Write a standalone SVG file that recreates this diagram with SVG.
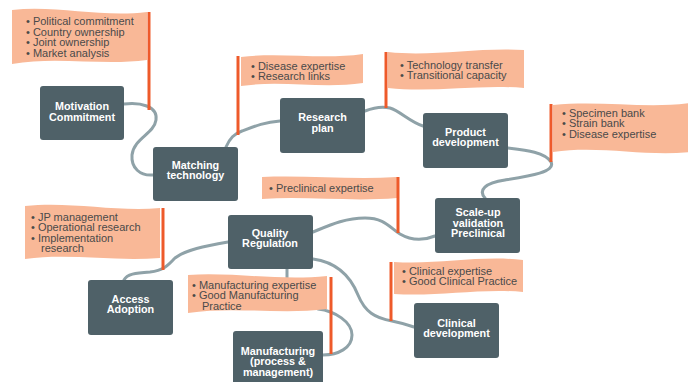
<svg xmlns="http://www.w3.org/2000/svg" width="688" height="382" viewBox="0 0 688 382">
  <style>
    .node rect { fill: #4f6168; }
    .node text { fill: #ffffff; font-family: "Liberation Sans", Arial, sans-serif; font-size: 10.8px; font-weight: bold; text-anchor: middle; }
    .link { fill: none; stroke: #8fa2a8; stroke-width: 3; stroke-linecap: round; }
    .flag path { fill: #f9b897; }
    .flag line { stroke: #ee5a2a; stroke-width: 3; }
    .flag text { fill: #4a4a4a; font-family: "Liberation Sans", Arial, sans-serif; font-size: 11px; }
  </style>
  <rect width="688" height="382" fill="#ffffff"/>

  <!-- connectors -->
  <g id="connectors">
    <path class="link" d="M124,104 C140,102 158,106 156,120 C154,134 134,138 132,155 C131,168 140,176 153,175"/>
    <path class="link" d="M226,147 C230,138 234,134 242,131 C255,126 265,122 280,121"/>
    <path class="link" d="M365,111 C375,107 382,106 390,108 C400,111 410,122 423,126"/>
    <path class="link" d="M508,148 C525,150 545,152 551,162 C556,172 530,176 505,180 C485,183 478,190 485,198"/>
    <path class="link" d="M313,232 C330,225 345,218 365,218 C385,218 390,228 400,234 C412,241 425,240 435,236"/>
    <path class="link" d="M228,242 C205,246 185,250 175,258 C168,265 165,270 150,272 C135,273 127,274 124,280"/>
    <path class="link" d="M287,269 L287,290"/>
    <path class="link" d="M318,309 C335,311 352,322 352,335 C352,348 338,355 323,355"/>
    <path class="link" d="M313,259 C335,262 350,275 358,295 C365,312 375,318 392,321 C402,323 408,325 414,327"/>
  </g>

  <!-- flags -->
  <g id="flag-motivation" class="flag">
    <path d="M12,10 C57,5 102,18 147,12 L147,60 C102,66 57,56 12,64 Z"/>
    <line x1="149" y1="12" x2="149" y2="110"/>
    <text x="26" y="25">• Political commitment<tspan x="26" dy="10.5">• Country ownership</tspan><tspan x="26" dy="10.5">• Joint ownership</tspan><tspan x="26" dy="10.5">• Market analysis</tspan></text>
  </g>
  <g id="flag-research" class="flag">
    <path d="M241,57 C281,52 322,60 363,54 L363,83 C322,89 281,80 241,86 Z"/>
    <line x1="238" y1="56" x2="238" y2="135"/>
    <text x="251" y="69.5">• Disease expertise<tspan x="251" dy="10.5">• Research links</tspan></text>
  </g>
  <g id="flag-product" class="flag">
    <path d="M388,52 C433,57 478,47 524,50 L524,88 C478,84 433,93 388,88 Z"/>
    <line x1="386" y1="52" x2="386" y2="108"/>
    <text x="400" y="68.5">• Technology transfer<tspan x="400" dy="10.8">• Transitional capacity</tspan></text>
  </g>
  <g id="flag-scaleup" class="flag">
    <path d="M553,105 C600,100 645,109 690,103 L690,152 C645,157 600,145 553,152 Z"/>
    <line x1="551" y1="104" x2="551" y2="162"/>
    <text x="562" y="116.5">• Specimen bank<tspan x="562" dy="10.5">• Strain bank</tspan><tspan x="562" dy="10.5">• Disease expertise</tspan></text>
  </g>
  <g id="flag-preclinical" class="flag">
    <path d="M262,177 C307,175 352,180 397,177 L397,198 C352,202 307,196 262,199 Z"/>
    <line x1="398" y1="177" x2="398" y2="233"/>
    <text x="269" y="191.5">• Preclinical expertise</text>
  </g>
  <g id="flag-access" class="flag">
    <path d="M25,206 C70,201 115,212 160,208 L160,258 C115,262 70,253 25,259 Z"/>
    <line x1="163" y1="208" x2="163" y2="270"/>
    <text x="31" y="220.5">• JP management<tspan x="31" dy="10.5">• Operational research</tspan><tspan x="31" dy="10.5">• Implementation</tspan><tspan x="41" dy="10.5">research</tspan></text>
  </g>
  <g id="flag-manufacturing" class="flag">
    <path d="M188,275 C234,272 280,281 327,276 L327,309 C280,315 234,306 188,313 Z"/>
    <line x1="331" y1="277" x2="331" y2="354"/>
    <text x="192" y="288.5">• Manufacturing expertise<tspan x="192" dy="10.5">• Good Manufacturing</tspan><tspan x="202" dy="10.5">Practice</tspan></text>
  </g>
  <g id="flag-clinical" class="flag">
    <path d="M394,262 C437,265 480,255 523,260 L523,292 C480,288 437,297 394,294 Z"/>
    <line x1="391" y1="262" x2="391" y2="321"/>
    <text x="402" y="274.5">• Clinical expertise<tspan x="402" dy="10.8">• Good Clinical Practice</tspan></text>
  </g>

  <!-- nodes -->
  <g id="node-motivation" class="node">
    <rect x="40" y="86" width="84" height="54" rx="3"/>
    <text x="82" y="110">Motivation<tspan x="82" dy="10.5">Commitment</tspan></text>
  </g>
  <g id="node-matching" class="node">
    <rect x="153" y="147" width="85" height="54" rx="3"/>
    <text x="195.5" y="168.5">Matching<tspan x="195.5" dy="10.5">technology</tspan></text>
  </g>
  <g id="node-research" class="node">
    <rect x="280" y="98" width="85" height="55" rx="3"/>
    <text x="322.5" y="121">Research<tspan x="322.5" dy="10.5">plan</tspan></text>
  </g>
  <g id="node-product" class="node">
    <rect x="423" y="113" width="85" height="55" rx="3"/>
    <text x="465.5" y="135.5">Product<tspan x="465.5" dy="10.5">development</tspan></text>
  </g>
  <g id="node-scaleup" class="node">
    <rect x="435" y="198" width="85" height="55" rx="3"/>
    <text x="478" y="216">Scale-up<tspan x="478" dy="10.6">validation</tspan><tspan x="478" dy="10.6">Preclinical</tspan></text>
  </g>
  <g id="node-quality" class="node">
    <rect x="228" y="215" width="85" height="54" rx="3"/>
    <text x="270" y="236.5">Quality<tspan x="270" dy="10.5">Regulation</tspan></text>
  </g>
  <g id="node-access" class="node">
    <rect x="88" y="280" width="85" height="55" rx="3"/>
    <text x="130.5" y="302.5">Access<tspan x="130.5" dy="10.5">Adoption</tspan></text>
  </g>
  <g id="node-manufacturing" class="node">
    <rect x="233" y="331" width="90" height="58" rx="3"/>
    <text x="278" y="354.5">Manufacturing<tspan x="278" dy="10.7">(process &amp;</tspan><tspan x="278" dy="10.7">management)</tspan></text>
  </g>
  <g id="node-clinical" class="node">
    <rect x="414" y="303" width="85" height="55" rx="3"/>
    <text x="456.5" y="326.5">Clinical<tspan x="456.5" dy="10.5">development</tspan></text>
  </g>
</svg>
